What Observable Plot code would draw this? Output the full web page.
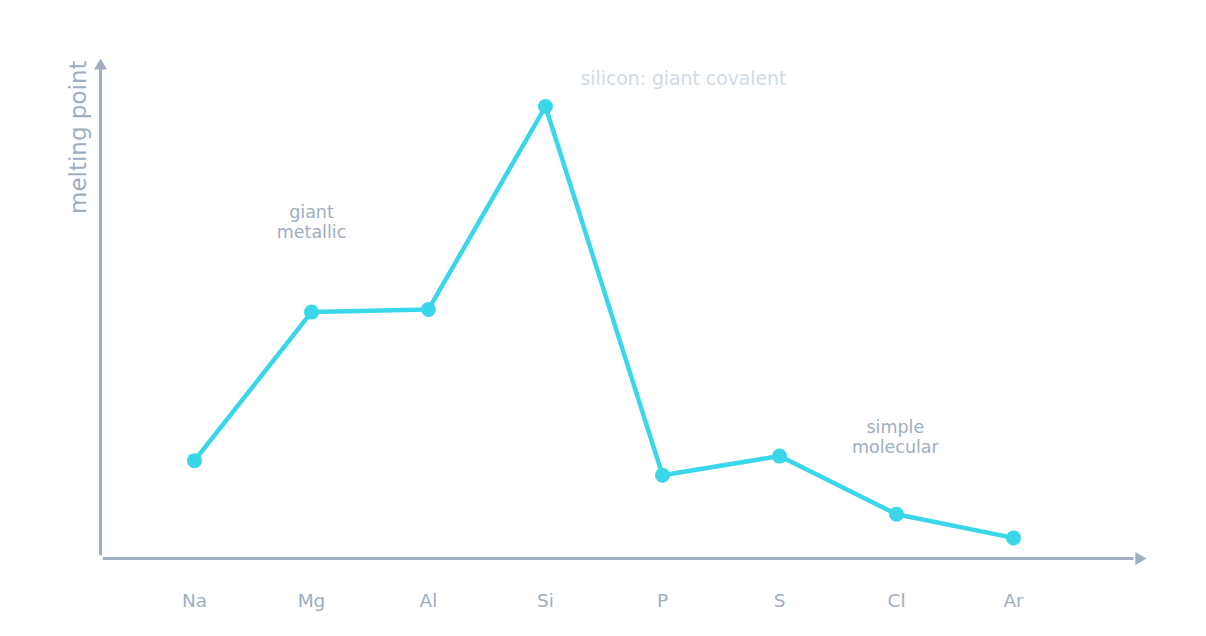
<!DOCTYPE html>
<html>
<head>
<meta charset="utf-8">
<script src="https://cdn.jsdelivr.net/npm/d3@7"></script>
<script src="https://cdn.jsdelivr.net/npm/@observablehq/plot@0.6"></script>
<style>
  html, body { margin: 0; padding: 0; background: #ffffff; }
</style>
</head>
<body>
<div id="chart"></div>
<script>
const elements = ["Na", "Mg", "Al", "Si", "P", "S", "Cl", "Ar"];
const meltingPoints = [371, 923, 933, 1687, 317, 388, 172, 84];

const noteTexts = ["giant\nmetallic", "simple\nmolecular"];
const noteX = [1, 5.99];
const noteY = [1258, 461];
const siliconNote = "silicon: giant covalent";

const data = elements.map((e, i) => ({ i, element: e, mp: meltingPoints[i] }));
const notes = noteTexts.map((t, k) => ({ t, x: noteX[k], y: noteY[k] }));

const axisColor = "#a0aec0";
const lineColor = "#3ad6ea";

const chart = Plot.plot({
  width: 1206,
  height: 636,
  marginLeft: 194,
  marginRight: 193,
  marginTop: 106,
  marginBottom: 76,
  style: { fontFamily: "DejaVu Sans", color: axisColor, background: "#ffffff" },
  x: { type: "linear", domain: [0, 7], axis: null },
  y: { domain: [0, 1687], axis: null },
  marks: [
    Plot.ruleX([-0.803], { y1: 18, y2: 1830, stroke: axisColor, strokeWidth: 3 }),
    Plot.ruleY([7.4], { x1: -0.78, x2: 8.03, stroke: axisColor, strokeWidth: 3 }),
    Plot.dot([{ x: -0.803, y: 1838 }], { x: "x", y: "y", symbol: "triangle", r: 4.8, fill: axisColor, stroke: "none" }),
    Plot.dot([{ x: 8.073, y: 7.4 }], { x: "x", y: "y", symbol: "triangle", r: 4.8, rotate: 90, fill: axisColor, stroke: "none" }),
    Plot.axisX({ ticks: d3.range(elements.length), tickFormat: (i) => elements[i], tickSize: 0, tickPadding: 33, fontSize: 18.5, label: null, fill: axisColor }),
    Plot.text(["melting point"], { x: -0.99, y: 1858, text: (d) => d, rotate: -90, textAnchor: "end", fontSize: 23, fill: axisColor }),
    Plot.line(data, { x: "i", y: "mp", stroke: lineColor, strokeWidth: 4.5, strokeLinejoin: "round", strokeLinecap: "round" }),
    Plot.dot(data, { x: "i", y: "mp", r: 7.5, fill: lineColor, stroke: "none" }),
    Plot.text(notes, { x: "x", y: "y", text: "t", fontSize: 17.5, lineHeight: 1.15, fill: axisColor }),
    Plot.text([siliconNote], { x: 3.299, y: 1790, text: (d) => d, textAnchor: "start", fontSize: 18.8, fill: "#cfdae6" })
  ]
});

document.getElementById("chart").appendChild(chart);
</script>
</body>
</html>
